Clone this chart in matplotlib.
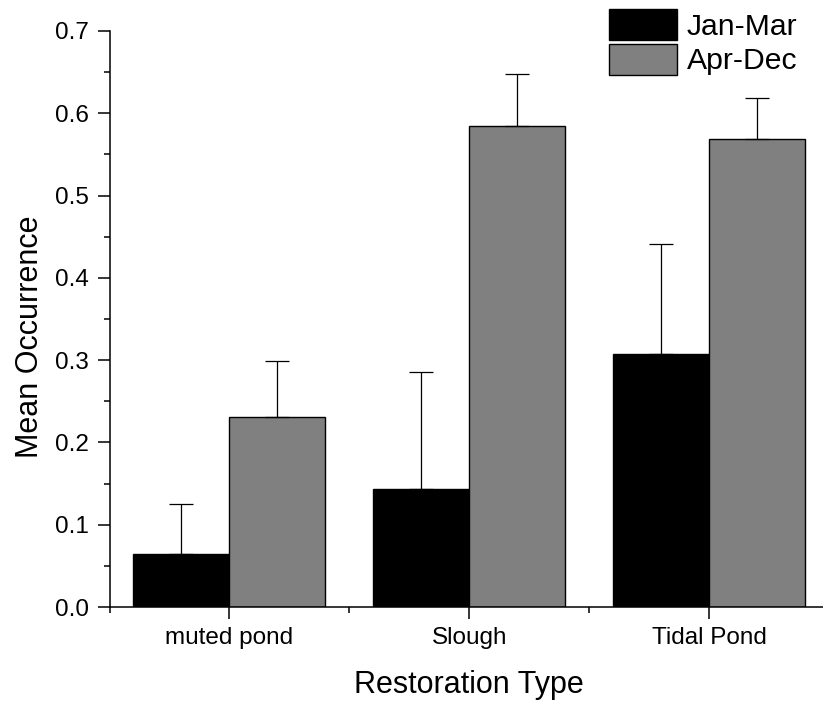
import numpy as np
import matplotlib.pyplot as plt
from matplotlib.ticker import MultipleLocator

plt.rcParams['font.family'] = ['Liberation Sans', 'DejaVu Sans']

categories = ['muted pond', 'Slough', 'Tidal Pond']
jan_mar = [0.064, 0.144, 0.308]
jan_mar_err = [0.061, 0.142, 0.133]
apr_dec = [0.231, 0.584, 0.569]
apr_dec_err = [0.068, 0.064, 0.050]

fig = plt.figure(figsize=(8.23, 7.04), dpi=100)
ax = fig.add_axes([109.5 / 823, 97 / 704, (829 - 109.5) / 823, 576 / 704])

x = np.arange(1, len(categories) + 1)
w = 0.4
err_kw = dict(ecolor='black', elinewidth=0.9, capsize=8.5, capthick=0.9)

ax.bar(x - w / 2, jan_mar, w, color='black', edgecolor='black', linewidth=1.0,
       yerr=[np.zeros(3), jan_mar_err], error_kw=err_kw, label='Jan-Mar')
ax.bar(x + w / 2, apr_dec, w, color='#808080', edgecolor='black', linewidth=1.0,
       yerr=[np.zeros(3), apr_dec_err], error_kw=err_kw, label='Apr-Dec')

ax.set_xlim(0.5, 3.5)
ax.set_ylim(0, 0.7)
ax.set_xticks(x)
ax.set_xticklabels(categories, fontsize=17.5)
ax.set_xticks([0.5, 1.5, 2.5, 3.5], minor=True)
ax.yaxis.set_major_locator(MultipleLocator(0.1))
ax.yaxis.set_minor_locator(MultipleLocator(0.05))
ax.yaxis.set_major_formatter(plt.FormatStrFormatter('%.1f'))
ax.tick_params(axis='y', labelsize=17.5)
ax.tick_params(which='major', direction='out', length=8.6, width=1.1, pad=6)
ax.tick_params(which='minor', direction='out', length=4.3, width=1.1)

for s in ['top', 'right']:
    ax.spines[s].set_visible(False)
for s in ['left', 'bottom']:
    ax.spines[s].set_linewidth(1.1)

ax.set_xlabel('Restoration Type', fontsize=22, labelpad=15)
ax.set_ylabel('Mean Occurrence', fontsize=22, labelpad=7, y=0.47)

ax.legend(loc='upper left', bbox_to_anchor=(609 / 823, 1 - 9 / 704),
          bbox_transform=fig.transFigure, frameon=False, fontsize=21.7,
          handlelength=2.27, handleheight=1.2, labelspacing=0.1,
          handletextpad=0.3, borderpad=0, borderaxespad=0)

fig.savefig('out.png', dpi=100)
